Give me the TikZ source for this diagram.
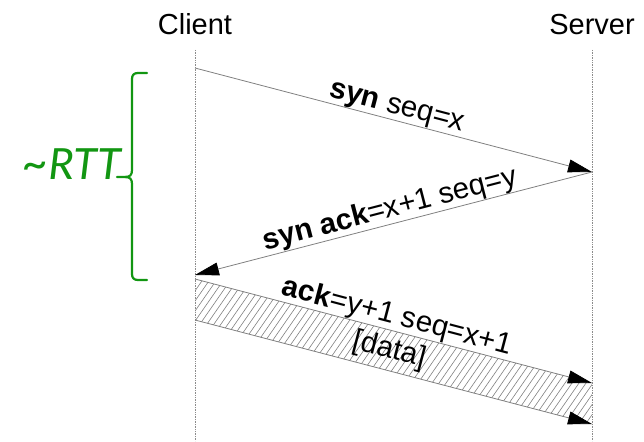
\documentclass[tikz,border=0pt]{standalone}
\usepackage{fontspec}
\setmainfont{Liberation Sans}
\newfontfamily\rttfont{Carlito}
\usetikzlibrary{arrows.meta,calc}
\definecolor{rttgreen}{RGB}{18,150,18}
\definecolor{lifegray}{gray}{0.55}
\tikzset{
  header/.style={font=\fontsize{29}{31}\selectfont, anchor=base},
  lifeline/.style={draw=lifegray, line width=0.7pt, densely dotted},
  msg/.style={draw=gray, line width=0.8pt,
    -{Triangle[length=24pt,width=13pt,color=black]}},
  msglabel/.style={font=\fontsize{29.5}{31}\selectfont, sloped, above=0pt, inner sep=0pt},
  hatchline/.style={draw=gray, line width=0.6pt},
  rttbrace/.style={draw=rttgreen, line width=2.2pt, line cap=round, line join=round}
}
\begin{document}
\begin{tikzpicture}[x=1pt,y=-1pt]
\useasboundingbox (0,0) rectangle (644,441);

% participants and their lifelines
\node[header] (client) at (195,35) {Client};
\node[header] (server) at (592,35) {Server};
\coordinate (clienttop) at (195,50);
\coordinate (clientbot) at (195,441);
\coordinate (servertop) at (592,50);
\coordinate (serverbot) at (592,441);
\draw[lifeline] (clienttop) -- (clientbot);
\draw[lifeline] (servertop) -- (serverbot);

% message end points
\coordinate (c1) at (195,68);
\coordinate (s1) at (592,172);
\coordinate (c2) at (195,275);
\coordinate (c3) at (195,279);
\coordinate (s3) at (592,383);
\coordinate (c4) at (195,320);
\coordinate (s4) at (592,424);

% data band: white fill with diagonal hatching
\begin{scope}
  \clip (c3) -- (s3) -- (s4) -- (c4) -- cycle;
  \foreach \x in {60,67,...,640} {
    \draw[hatchline] (\x,445) -- (\x+125,265);
  }
\end{scope}

% handshake messages
\draw[msg] (c1) -- (s1)
  node[msglabel, pos=0.5] {\textbf{syn} seq=x};
\draw[msg] (s1) -- (c2)
  node[msglabel, pos=0.5] {\textbf{syn ack}=x+1 seq=y};
\draw[msg] (c3) -- (s3)
  node[msglabel, pos=0.5] {\textbf{ack}=y+1 seq=x+1};
\draw[msg] (c4) -- (s4);
\path ($(c3)!0.5!(c4)$) -- ($(s3)!0.5!(s4)$)
  node[font=\fontsize{29.5}{31}\selectfont, sloped, pos=0.49, inner sep=0pt] (data) {[data]};

% round-trip time brace
\draw[rttbrace] (147,73) -- (138,73) .. controls (134,73) and (132,75) .. (132,79)
  -- (132,170) .. controls (132,175) and (130,177) .. (125,177) -- (117,177);
\draw[rttbrace] (125,177) .. controls (130,177) and (132,179) .. (132,184)
  -- (132,274) .. controls (132,278) and (134,280) .. (138,280) -- (147,280);
\node[text=rttgreen, font=\rttfont\itshape\fontsize{48}{50}\selectfont, anchor=base east, inner sep=0pt]
  (rtt) at (121,179) {\textasciitilde RTT};
\end{tikzpicture}
\end{document}
